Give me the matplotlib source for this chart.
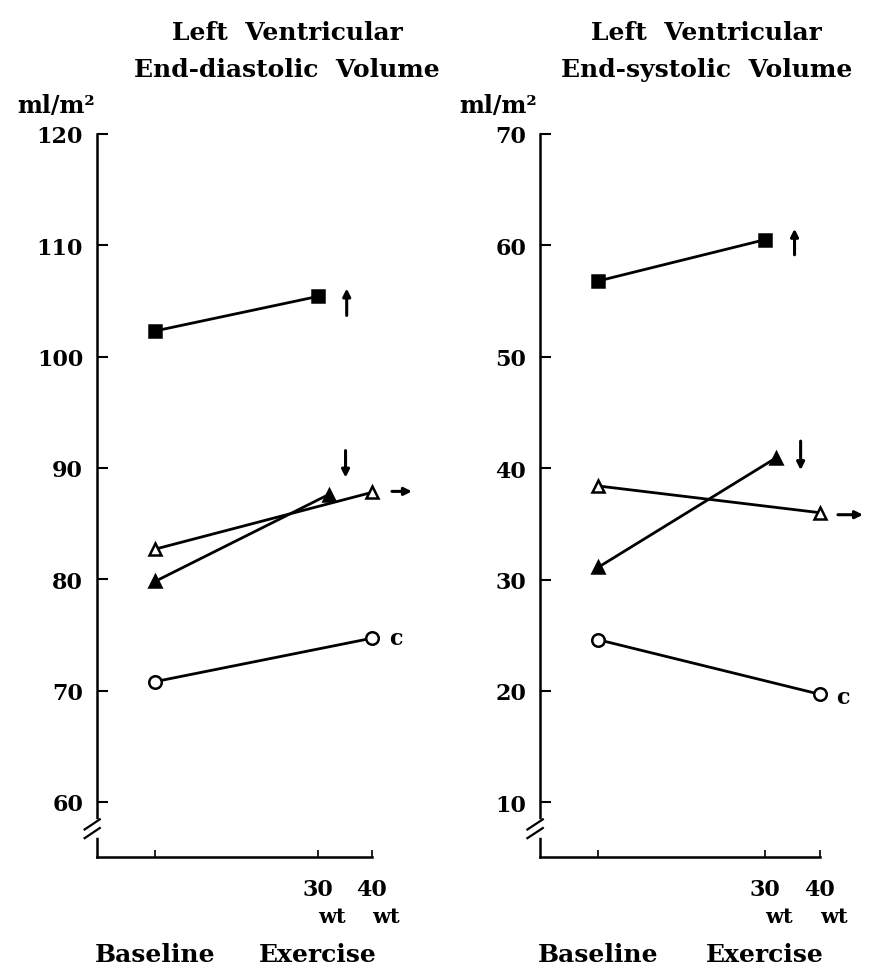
import matplotlib
matplotlib.use('Agg')
import matplotlib.pyplot as plt
import matplotlib.transforms as mtransforms

# x positions: baseline = 0, exercise workload in wt
x_base = 0
x_end = [30, 32, 40, 40]          # square, filled tri, open tri, circle
markers = ['s', '^', '^', 'o']
filled = [True, True, False, False]

# Left Ventricular End-diastolic Volume (ml/m2)
edv_base = [102.3, 79.8, 82.7, 70.8]
edv_exer = [105.4, 87.6, 87.8, 74.7]
# Left Ventricular End-systolic Volume (ml/m2)
esv_base = [56.8, 31.1, 38.4, 24.6]
esv_exer = [60.5, 40.9, 36.0, 19.7]

xticks = [0, 30, 40]
xtick_labels = ['', '30', '40']

edv_yticks = [60, 70, 80, 90, 100, 110, 120]
esv_yticks = [10, 20, 30, 40, 50, 60, 70]

titles = [['Left  Ventricular', 'End-diastolic  Volume'],
          ['Left  Ventricular', 'End-systolic  Volume']]

# end marks: (kind, offsets in pixels) -- arrows are (tail dx, tail dy, head dx, head dy)
edv_marks = [('arrow', (29, -19, 29, 8)), ('arrow', (17, 44, 17, 17)),
             ('arrow', (20, 1, 40, 1)), ('c', (24, 0))]
esv_marks = [('arrow', (30, -15, 30, 11)), ('arrow', (25, 17, 25, -12)),
             ('arrow', (18, -2, 43, -2)), ('c', (23, -3))]

plt.rcParams['font.family'] = 'DejaVu Serif'
plt.rcParams['font.weight'] = 'bold'

fig = plt.figure(figsize=(8.7, 9.7), dpi=100)

def draw_panel(rect, base, exer, yticks, marks, ylim, xlim):
    ax = fig.add_axes(rect)
    for i in range(len(base)):
        fc = 'black' if filled[i] else 'white'
        ax.plot([x_base, x_end[i]], [base[i], exer[i]], color='black', lw=2.0,
                marker=markers[i], markersize=9, markerfacecolor=fc,
                markeredgecolor='black', markeredgewidth=1.8, clip_on=False, zorder=3)
        kind, off = marks[i]
        if kind == 'arrow':
            tail = mtransforms.offset_copy(ax.transData, fig, x=off[0], y=off[1], units='dots')
            head = mtransforms.offset_copy(ax.transData, fig, x=off[2], y=off[3], units='dots')
            ax.annotate('', xy=(x_end[i], exer[i]), xycoords=head,
                        xytext=(x_end[i], exer[i]), textcoords=tail,
                        arrowprops=dict(arrowstyle='-|>', lw=2.2, color='black',
                                        mutation_scale=11, shrinkA=0, shrinkB=0),
                        annotation_clip=False)
        else:
            tr = mtransforms.offset_copy(ax.transData, fig, x=off[0], y=off[1], units='dots')
            ax.text(x_end[i], exer[i], 'c', transform=tr, ha='center', va='center',
                    fontsize=16, fontweight='bold')

    ax.set_xlim(*xlim)
    ax.set_ylim(*ylim)
    for s in ['top', 'right']:
        ax.spines[s].set_visible(False)
    for s in ['left', 'bottom']:
        ax.spines[s].set_linewidth(1.8)
    ax.set_yticks(yticks)
    ax.set_yticklabels([str(v) for v in yticks])
    ax.tick_params(axis='y', direction='in', length=8, width=1.5, pad=10, labelsize=16)
    ax.set_xticks(xticks)
    ax.set_xticklabels([])
    ax.tick_params(axis='x', direction='in', length=5, width=1.2)
    for lab in ax.get_yticklabels():
        lab.set_fontweight('bold')

    bt = mtransforms.blended_transform_factory(ax.transData, ax.transAxes)
    for xv, lab in zip(xticks, xtick_labels):
        if lab:
            ax.text(xv, -0.044, lab, transform=bt, ha='center', va='center',
                    fontsize=16, fontweight='bold')
            tr = mtransforms.offset_copy(bt, fig, x=14, y=0, units='dots')
            ax.text(xv, -0.081, 'wt', transform=tr, ha='center', va='center',
                    fontsize=15, fontweight='bold')
    ax.text(x_base, -0.134, 'Baseline', transform=bt, ha='center', va='center',
            fontsize=18, fontweight='bold')
    ax.text(30, -0.134, 'Exercise', transform=bt, ha='center', va='center',
            fontsize=18, fontweight='bold')

    # axis break on the y spine
    yb = 0.039
    ax.plot([0, 0], [yb - 0.009, yb + 0.009], transform=ax.transAxes, color='white',
            lw=4, clip_on=False, zorder=5)
    for d in (-0.006, 0.006):
        ax.plot([-0.045, 0.01], [yb + d - 0.007, yb + d + 0.007], transform=ax.transAxes,
                color='black', lw=1.6, clip_on=False, zorder=6)

    # unit label
    ax.text(-0.29, 1.04, 'ml/m²', transform=ax.transAxes, ha='left', va='center',
            fontsize=17, fontweight='bold')
    return ax

ax1 = draw_panel([0.1115, 0.1155, 0.316, 0.7454], edv_base, edv_exer, edv_yticks,
                 edv_marks, (55.05, 120), (-10.7, 40))
ax2 = draw_panel([0.6207, 0.1155, 0.3218, 0.7454], esv_base, esv_exer, esv_yticks,
                 esv_marks, (5.1, 70), (-10.5, 40))

for xc, lines in zip([0.33, 0.812], titles):
    fig.text(xc, 1 - 33 / 970, lines[0], ha='center', va='center', fontsize=18,
             fontweight='bold')
    fig.text(xc, 1 - 70 / 970, lines[1], ha='center', va='center', fontsize=18,
             fontweight='bold')

fig.savefig('out.png', dpi=100, facecolor='white')
